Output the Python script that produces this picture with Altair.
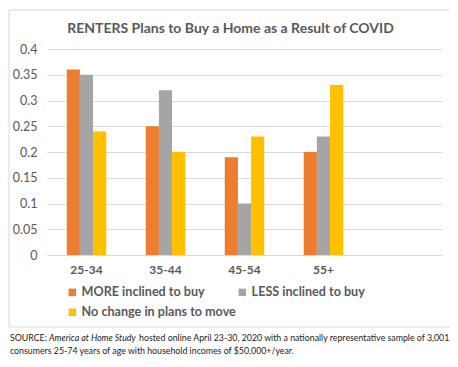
import altair as alt
import pandas as pd

categories = ["25-34", "35-44", "45-54", "55+"]
series = ["MORE inclined to buy", "LESS inclined to buy", "No change in plans to move"]
more_vals = [0.36, 0.25, 0.19, 0.20]
less_vals = [0.35, 0.32, 0.10, 0.23]
nochange_vals = [0.24, 0.20, 0.23, 0.33]
colors = ["#ED7D31", "#A5A5A5", "#FFC000"]
y_ticks = [0, 0.05, 0.1, 0.15, 0.2, 0.25, 0.3, 0.35, 0.4]

title_text = "RENTERS Plans to Buy a Home as a Result of COVID"
src_a = "SOURCE:"
src_b = "America at Home Study"
src_c = "hosted online April 23-30, 2020 with a nationally representative sample of 3,001"
src_d = "consumers 25-74 years of age with household incomes of $50,000+/year."

rows = []
for i, c in enumerate(categories):
    for s, vals in zip(series, [more_vals, less_vals, nochange_vals]):
        rows.append({"age": c, "series": s, "value": vals[i]})
df = pd.DataFrame(rows)
one = pd.DataFrame({"k": [0]})

FONT = "Lato"
GRAY = "#595959"

bars = alt.Chart(df).mark_bar().encode(
    x=alt.X("age:N", sort=categories,
            scale=alt.Scale(domain=categories + [""], paddingInner=0.5, paddingOuter=0.25),
            axis=alt.Axis(title=None, labelAngle=0, ticks=False, domain=True,
                          domainColor="#d9d9d9", labelColor=GRAY, labelFontSize=12,
                          labelFont=FONT, labelFontWeight="bold", labelPadding=9)),
    xOffset=alt.XOffset("series:N", sort=series,
                        scale=alt.Scale(domain=series, paddingInner=0, paddingOuter=0)),
    y=alt.Y("value:Q", scale=alt.Scale(domain=[0, 0.4], nice=False),
            axis=alt.Axis(title=None, values=y_ticks, format="~g", ticks=False, domain=False,
                          gridColor="#d9d9d9", labelColor=GRAY, labelFontSize=12.5,
                          labelFont=FONT, labelPadding=10)),
    color=alt.Color("series:N", sort=series,
                    scale=alt.Scale(domain=series, range=colors),
                    legend=alt.Legend(title=None, orient="none", legendX=19, legendY=237,
                                      direction="horizontal",
                                      columns=2, columnPadding=-8, rowPadding=7,
                                      symbolType="square", symbolSize=55, symbolStrokeWidth=0,
                                      labelFontSize=12.6, labelFont=FONT, labelFontWeight="bold",
                                      labelColor=GRAY, labelLimit=300, padding=0,
                                      labelOffset=3, symbolOffset=0)),
)

frame = alt.Chart(one).mark_rect(fill=None, stroke="#d9d9d9", strokeWidth=1).encode(
    x=alt.value(-38), x2=alt.value(405), y=alt.value(-39), y2=alt.value(278)
)

def txt(t, x, y, italic=False):
    return alt.Chart(one).mark_text(text=t, align="left", baseline="alphabetic",
                                   font=FONT, fontSize=8.8, color="#222222",
                                   fontStyle="italic" if italic else "normal").encode(
        x=alt.value(x), y=alt.value(y))

source = txt(src_a, -37, 292) + txt(src_b, 2, 292, True) + txt(src_c, 92, 292) + txt(src_d, -37, 305)

chart = alt.layer(frame, bars, source).properties(
    width=395, height=206,
    padding={"left": 39, "top": 41, "right": 8, "bottom": 104},
    autosize=alt.AutoSizeParams(type="none"),
    title=alt.TitleParams(title_text, font=FONT, fontSize=14, fontWeight="bold",
                          color=GRAY, anchor="middle", frame="group", dx=-14, dy=40, offset=14),
).configure_view(stroke=None)

chart.save("out.html", embed_options={"renderer": "svg", "actions": False})
